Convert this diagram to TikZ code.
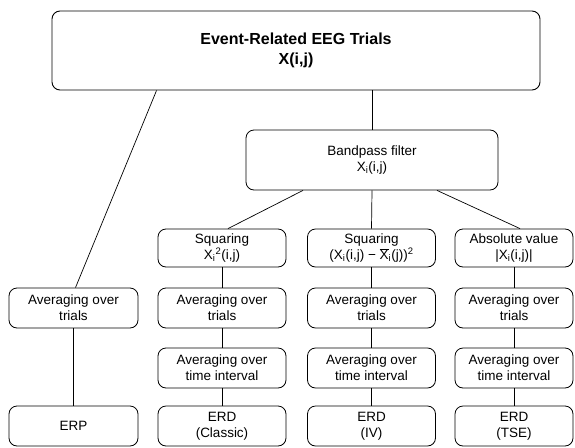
\documentclass[tikz,border=0pt]{standalone}
\usepackage{fontspec}
\setmainfont{Liberation Sans}
\tikzset{
	box/.style={draw,rounded corners=8pt,line width=0.8pt,align=center,inner sep=0pt,
		minimum width=128pt,minimum height=40pt,font=\fontsize{13.5}{16}\selectfont},
	link/.style={line width=0.7pt}
}

\begin{document}
\begin{tikzpicture}[x=1pt,y=-1pt]
\useasboundingbox (0,0) rectangle (575,447);
%top and filter
\node[box,minimum width=488pt,minimum height=79pt,line width=0.9pt,
	font=\fontsize{16}{20}\selectfont\bfseries] (trials) at (296,50.5) {Event-Related EEG Trials\\X(i,j)};
\node[box,minimum width=252pt,minimum height=60pt] (filter) at (372,160) {Bandpass filter\\X\textsubscript{i}(i,j)};

%ERP branch
\node[box,minimum width=129pt] (avgerp) at (73.5,308) {Averaging over\\trials};
\node[box,minimum width=129pt] (erp) at (73.5,426) {ERP};

%squaring rows
\node[box,minimum height=38pt] (sqa) at (222,248) {Squaring\\X\textsubscript{i}\textsuperscript{2}(i,j)};
\node[box,minimum height=38pt] (sqb) at (371.5,248) {Squaring\\(X\textsubscript{i}(i,j) − $\overline{\mbox{X}}$\textsubscript{i}(j))\textsuperscript{2}};
\node[box,minimum height=38pt,minimum width=118pt] (sqc) at (514,248) {Absolute value\\|X\textsubscript{i}(i,j)|};

\foreach \n/\x/\w/\lab in {a/222/128/Classic, b/371.5/128/IV, c/514/118/TSE}{
	\node[box,minimum width=\w pt] (avg\n) at (\x,308) {Averaging over\\trials};
	\node[box,minimum width=\w pt] (time\n) at (\x,368) {Averaging over\\time interval};
	\node[box,minimum width=\w pt] (erd\n) at (\x,426) {ERD\\(\lab)};
	\draw[link] (sq\n) -- (avg\n);
	\draw[link] (avg\n) -- (time\n);
	\draw[link] (time\n) -- (erd\n);
}

%connectors
\draw[link] ([xshift=105pt]trials.south west) -- ([xshift=2pt]avgerp.north);
\draw[link] (avgerp) -- (erp);
\draw[link] (filter.north) -- (filter.north |- trials.south);
\draw[link] ([xshift=-69pt]filter.south) -- ([xshift=6pt]sqa.north);
\draw[link] (filter.south) -- (sqb.north);
\draw[link] ([xshift=65pt]filter.south) -- ([xshift=6pt]sqc.north);
\end{tikzpicture}
\end{document}
